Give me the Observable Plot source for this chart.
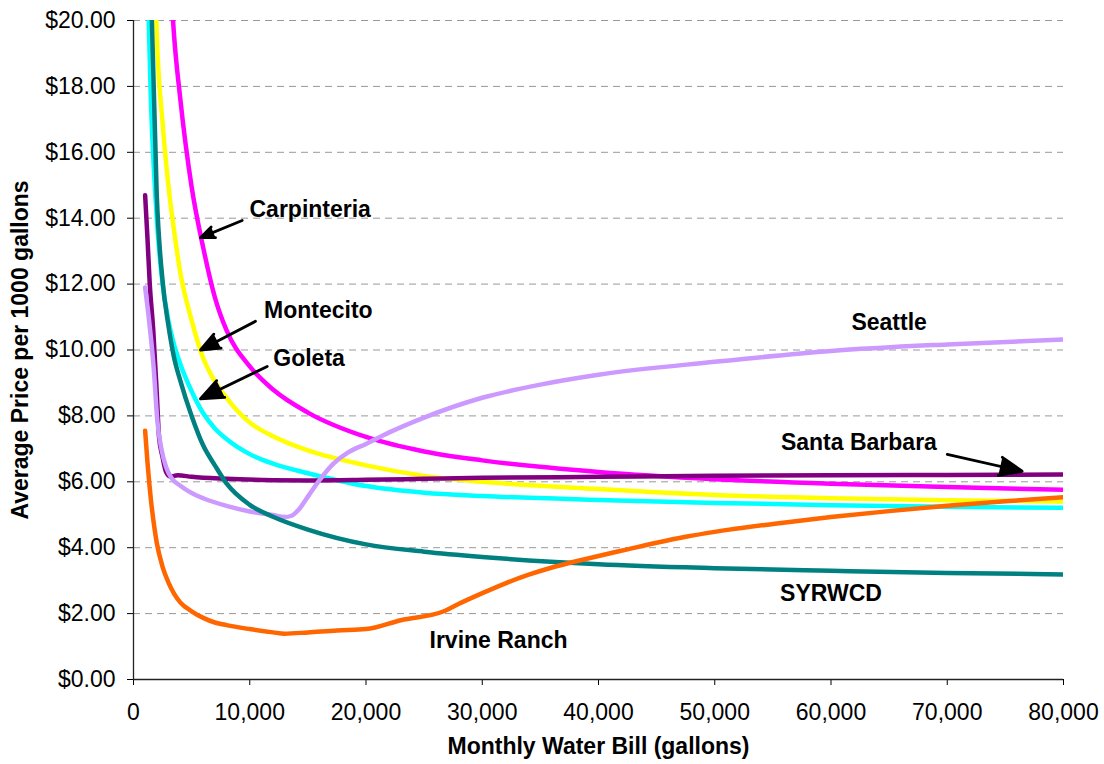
<!DOCTYPE html>
<html>
<head>
<meta charset="utf-8">
<script src="https://cdn.jsdelivr.net/npm/d3@7"></script>
<script src="https://cdn.jsdelivr.net/npm/@observablehq/plot@0.6"></script>
<style>
  html, body { margin: 0; padding: 0; background: #fff; }
  #chart svg { display: block; }
</style>
</head>
<body>
<div id="chart"></div>
<script>
// ---- Data ----
const xTicks = [0, 10000, 20000, 30000, 40000, 50000, 60000, 70000, 80000];
const yTicks = [0, 2, 4, 6, 8, 10, 12, 14, 16, 18, 20];
const gridVals = [2, 4, 6, 8, 10, 12, 14, 16, 18, 20];

const carpX = [2500, 3000, 3500, 4000, 5000, 6000, 7000, 8000, 10000, 12000, 15000, 20000, 25000, 30000, 40000, 50000, 60000, 70000, 80000];
const carpY = [27, 22.5, 19.5, 17.7, 14.95, 13.1, 11.6, 10.6, 9.5, 8.8, 8.1, 7.36, 6.92, 6.65, 6.3, 6.08, 5.94, 5.84, 5.76];

const montX = [1500, 2000, 2500, 3000, 3500, 4000, 5000, 6000, 7000, 8000, 10000, 12000, 15000, 20000, 25000, 30000, 40000, 50000, 60000, 70000, 80000];
const montY = [27, 19.6, 16.9, 15.0, 13.6, 12.4, 10.9, 9.75, 9.05, 8.55, 7.8, 7.38, 6.95, 6.5, 6.18, 6.0, 5.78, 5.6, 5.5, 5.44, 5.40];

const goleX = [1000, 1500, 2000, 2500, 3000, 3500, 4000, 5000, 6000, 7000, 8000, 10000, 12000, 15000, 20000, 25000, 30000, 40000, 50000, 60000, 70000, 80000];
const goleY = [24, 17.5, 14.0, 12.0, 10.9, 10.15, 9.6, 8.75, 8.08, 7.62, 7.3, 6.84, 6.55, 6.26, 5.87, 5.67, 5.57, 5.45, 5.36, 5.29, 5.24, 5.21];

const syrX = [1000, 1500, 2000, 2500, 3000, 3500, 4000, 5000, 6000, 7000, 8000, 10000, 12000, 15000, 20000, 25000, 30000, 40000, 50000, 60000, 70000, 80000];
const syrY = [30, 21, 14.7, 12.1, 10.75, 9.75, 9.1, 8.0, 7.1, 6.5, 5.95, 5.3, 4.94, 4.55, 4.1, 3.88, 3.72, 3.5, 3.38, 3.3, 3.23, 3.19];

const sbX = [1000, 1200, 1400, 1700, 2000, 2200, 2500, 2800, 3200, 3800, 5000, 8000, 12000, 15000, 20000, 25000, 30000, 40000, 50000, 60000, 70000, 80000];
const sbY = [14.7, 13.4, 12.0, 10.6, 8.7, 7.35, 6.75, 6.3, 6.16, 6.2, 6.15, 6.09, 6.05, 6.04, 6.06, 6.09, 6.12, 6.15, 6.18, 6.2, 6.21, 6.22];

const seaX = [1000, 1400, 1750, 2050, 2400, 2800, 3300, 4000, 5000, 6000, 8000, 10000, 12000, 13000, 13600, 14200, 15000, 16000, 17200, 18500, 20000, 22000, 25000, 30000, 35000, 40000, 50000, 60000, 70000, 80000];
const seaY = [11.9, 10.7, 9.4, 7.85, 7.0, 6.45, 6.1, 5.89, 5.66, 5.5, 5.27, 5.1, 4.99, 4.93, 4.97, 5.15, 5.55, 6.05, 6.55, 6.9, 7.15, 7.5, 7.95, 8.55, 8.95, 9.25, 9.64, 9.97, 10.17, 10.32];

const irvX = [1000, 1200, 1500, 1800, 2000, 2500, 3000, 3500, 4000, 5000, 6000, 7000, 8000, 10000, 12000, 13000, 15000, 17500, 20000, 23000, 26700, 28000, 30000, 32000, 34000, 36000, 38000, 40000, 42500, 45000, 47500, 50000, 55000, 60000, 65000, 70000, 75000, 80000];
const irvY = [7.55, 6.6, 5.45, 4.6, 4.15, 3.42, 2.95, 2.6, 2.35, 2.07, 1.87, 1.73, 1.65, 1.53, 1.43, 1.39, 1.43, 1.49, 1.53, 1.8, 2.07, 2.3, 2.62, 2.92, 3.18, 3.4, 3.58, 3.75, 3.95, 4.15, 4.33, 4.48, 4.72, 4.93, 5.11, 5.27, 5.41, 5.53];

const seriesNames  = ["Carpinteria", "Montecito", "Goleta", "Santa Barbara", "Seattle", "SYRWCD", "Irvine Ranch"];
const seriesColors = ["#FF00FF", "#FFFF00", "#00FFFF", "#800080", "#CC99FF", "#008080", "#FF6600"];
const seriesXs = [carpX, montX, goleX, sbX, seaX, syrX, irvX];
const seriesYs = [carpY, montY, goleY, sbY, seaY, syrY, irvY];

const labelNames = ["Carpinteria", "Montecito", "Goleta", "Seattle", "Santa Barbara", "SYRWCD", "Irvine Ranch"];
const labelX = [15200, 15900, 15100, 65000, 62400, 60000, 31400];
const labelY = [14.26, 11.2, 9.74, 10.84, 7.2, 2.6, 1.18];

const arrowX1 = [9350, 10495, 11500, 70000];
const arrowY1 = [13.93, 10.87, 9.5, 6.83];
const arrowX2 = [5763, 5763, 5763, 76447];
const arrowY2 = [13.41, 10.0, 8.52, 6.32];

const xTitle = "Monthly Water Bill (gallons)";
const yTitle = "Average Price per 1000 gallons";

// ---- Build tables ----
const lineMarks = seriesNames.map((name, k) => {
  const rows = seriesXs[k].map((x, i) => ({ series: name, x, y: seriesYs[k][i] }));
  return Plot.line(rows, {
    x: "x", y: "y", stroke: seriesColors[k], strokeWidth: 4.5,
    curve: "monotone-x", clip: true, strokeLinecap: "round", strokeLinejoin: "round"
  });
});
const labels = labelNames.map((t, i) => ({ t, x: labelX[i], y: labelY[i] }));
const arrows = arrowX1.map((x1, i) => ({ x1, y1: arrowY1[i], x2: arrowX2[i], y2: arrowY2[i] }));

const FONT = "'Liberation Sans', Arial, Helvetica, sans-serif";

const chart = Plot.plot({
  width: 1104,
  height: 764,
  marginLeft: 133,
  marginRight: 41,
  marginTop: 20,
  marginBottom: 85,
  style: { fontFamily: FONT, fontSize: "23px", color: "#000", background: "#fff", overflow: "visible" },
  x: { domain: [0, 80000], ticks: xTicks, tickFormat: d3.format(","), tickSize: 6, tickPadding: 18, label: null },
  y: { domain: [0, 20], ticks: yTicks, tickFormat: d => "$" + d.toFixed(2), tickSize: 6, tickPadding: 12, label: null },
  marks: [
    Plot.ruleY(gridVals, { stroke: "#999", strokeWidth: 1, strokeDasharray: "7,5" }),
    ...lineMarks,
    Plot.ruleX([0], { stroke: "#222", strokeWidth: 1.3 }),
    Plot.ruleY([0], { stroke: "#222", strokeWidth: 1.3 }),
    Plot.arrow(arrows, { x1: "x1", y1: "y1", x2: "x2", y2: "y2", stroke: "#000", fill: "#000", strokeWidth: 2.8, headLength: 13, headAngle: 45, bend: 0, strokeLinejoin: "miter" }),
    Plot.text(labels, { x: "x", y: "y", text: "t", fontWeight: "bold", fontSize: 23, fill: "#000", textAnchor: "middle", lineAnchor: "middle" }),
    Plot.text([xTitle], { text: d => d, frameAnchor: "bottom", dy: 67, fontWeight: "bold", fontSize: 23, fill: "#000", textAnchor: "middle", lineAnchor: "middle" }),
    Plot.text([yTitle], { text: d => d, frameAnchor: "left", dx: -113, rotate: -90, fontWeight: "bold", fontSize: 23, fill: "#000", textAnchor: "middle", lineAnchor: "middle" })
  ]
});
document.getElementById("chart").appendChild(chart);
</script>
</body>
</html>
